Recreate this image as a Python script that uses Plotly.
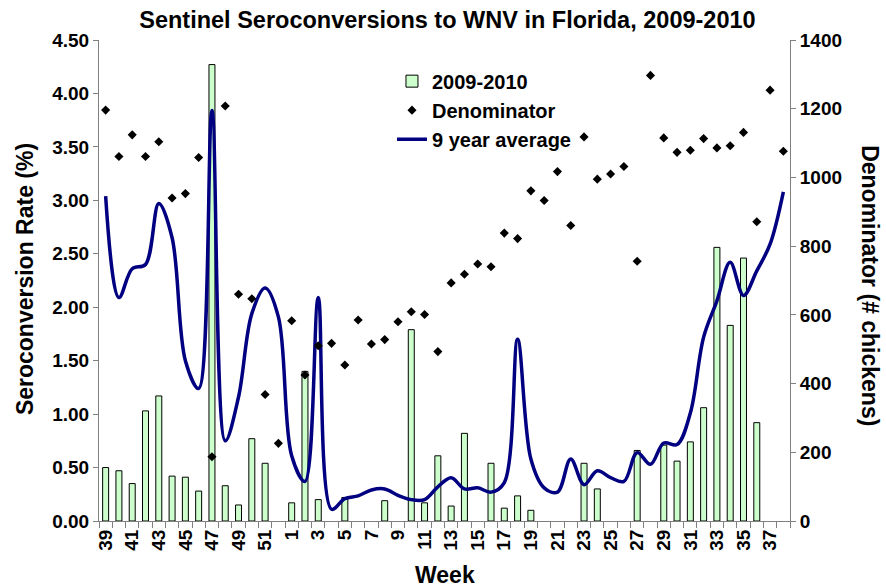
import plotly.graph_objects as go

weeks = [39, 40, 41, 42, 43, 44, 45, 46, 47, 48, 49, 50, 51, 52] + list(range(1, 39))
week_labels = [str(w) for w in weeks]
left_ticks = [0, 0.5, 1.0, 1.5, 2.0, 2.5, 3.0, 3.5, 4.0, 4.5]
right_ticks = [0, 200, 400, 600, 800, 1000, 1200, 1400]

rate_2009_2010 = [0.50, 0.47, 0.35, 1.03, 1.17, 0.42, 0.41, 0.28, 4.27, 0.33, 0.15, 0.77, 0.54, 0,
                  0.17, 1.40, 0.20, 0, 0.22, 0, 0, 0.19, 0, 1.79, 0.17, 0.61, 0.14, 0.82,
                  0, 0.54, 0.12, 0.235, 0.10, 0, 0, 0, 0.54, 0.30, 0, 0, 0.66, 0,
                  0.71, 0.56, 0.74, 1.06, 2.56, 1.83, 2.46, 0.92, 0, 0]

denominator = [1196, 1061, 1124, 1061, 1104, 940, 953, 1058, 187, 1208, 660, 647, 368, 226,
               583, 425, 510, 517, 454, 585, 515, 528, 580, 609, 601, 493, 693, 718,
               748, 740, 838, 822, 961, 933, 1017, 860, 1118, 995, 1010, 1032, 756, 1297,
               1115, 1073, 1079, 1113, 1086, 1092, 1131, 871, 1254, 1076]

nine_year_avg = [3.04, 2.09, 2.36, 2.40, 2.97, 2.65, 1.50, 1.24, 3.84, 0.75, 1.16, 1.94, 2.18, 1.91,
                 0.61, 0.37, 2.09, 0.11, 0.21, 0.235, 0.29, 0.30, 0.24, 0.20, 0.20, 0.32, 0.405, 0.30,
                 0.31, 0.27, 0.36, 1.70, 0.58, 0.31, 0.27, 0.58, 0.34, 0.47, 0.405, 0.37, 0.64, 0.53,
                 0.73, 0.715, 1.01, 1.72, 2.06, 2.42, 2.11, 2.34, 2.59, 3.08]

x = list(range(len(weeks)))
FONT = "Liberation Sans"

def b(s):
    return "<b>" + s + "</b>"

fig = go.Figure()
fig.add_trace(go.Bar(
    x=x, y=[v if v > 0 else None for v in rate_2009_2010], name=b("2009-2010"),
    width=0.45, marker=dict(color="#ccffcc", line=dict(color="black", width=1)),
    yaxis="y"))
fig.add_trace(go.Scatter(
    x=x, y=denominator, name=b("Denominator"), mode="markers",
    marker=dict(symbol="diamond", size=7, color="black"), yaxis="y2"))
fig.add_trace(go.Scatter(
    x=x, y=nine_year_avg, name=b("9 year average"), mode="lines",
    line=dict(color="#000080", width=3.5, shape="spline", smoothing=1.0), yaxis="y"))

tick_font = dict(family=FONT, size=19, color="black")
title_font = dict(family=FONT, size=23, color="black")

fig.update_layout(
    width=886, height=587,
    margin=dict(l=99, r=96, t=40, b=66, autoexpand=False),
    paper_bgcolor="white", plot_bgcolor="white",
    font=dict(family=FONT, color="black"),
    title=dict(text=b("Sentinel Seroconversions to WNV in Florida, 2009-2010"),
               x=0.505, xanchor="center", y=0.966, yanchor="middle",
               font=dict(family=FONT, size=23.5, color="black")),
    showlegend=True,
    legend=dict(x=0.424, y=0.955, xanchor="left", yanchor="top",
                bgcolor="rgba(0,0,0,0)", traceorder="normal",
                font=dict(family=FONT, size=20, color="black"),
                itemsizing="trace", tracegroupgap=0),
    xaxis=dict(range=[-0.5, 51.5], tickmode="array", tickvals=x[::2],
               ticktext=[b(t) for t in week_labels[::2]], tickangle=-90, ticks="outside", ticklen=0,
               tickfont=tick_font, showline=True, linecolor="#808080", linewidth=1,
               showgrid=False, zeroline=False, automargin=False,
               minor=dict(tick0=-0.5, dtick=1, ticks="outside", ticklen=6,
                          tickcolor="#808080", showgrid=False)),
    yaxis=dict(range=[0, 4.5], tickmode="array", tickvals=left_ticks,
               ticktext=[b(f"{v:.2f}") for v in left_ticks],
               ticks="outside", ticklen=5, tickcolor="#808080", tickfont=tick_font,
               showline=True, linecolor="#808080", linewidth=1, showgrid=False, zeroline=False,
               automargin=False),
    yaxis2=dict(range=[0, 1400], tickmode="array", tickvals=right_ticks,
                ticktext=[b(str(v)) for v in right_ticks], overlaying="y",
                side="right", ticks="outside", ticklen=5, tickcolor="#808080", tickfont=tick_font,
                showline=True, linecolor="#808080", linewidth=1, showgrid=False, zeroline=False,
                automargin=False),
)

fig.add_annotation(text=b("Seroconversion Rate (%)"), xref="paper", yref="paper",
                   x=-0.107, y=0.503, textangle=-90, showarrow=False,
                   xanchor="center", yanchor="middle", font=title_font)
fig.add_annotation(text=b("Denominator (# chickens)"), xref="paper", yref="paper",
                   x=1.116, y=0.49, textangle=90, showarrow=False,
                   xanchor="center", yanchor="middle", font=title_font)
fig.add_annotation(text=b("Week"), xref="paper", yref="paper",
                   x=0.501, y=-0.112, showarrow=False,
                   xanchor="center", yanchor="middle", font=title_font)

fig.write_html("out.html", config={"displayModeBar": False},
               post_script="document.body.style.margin='0';")
